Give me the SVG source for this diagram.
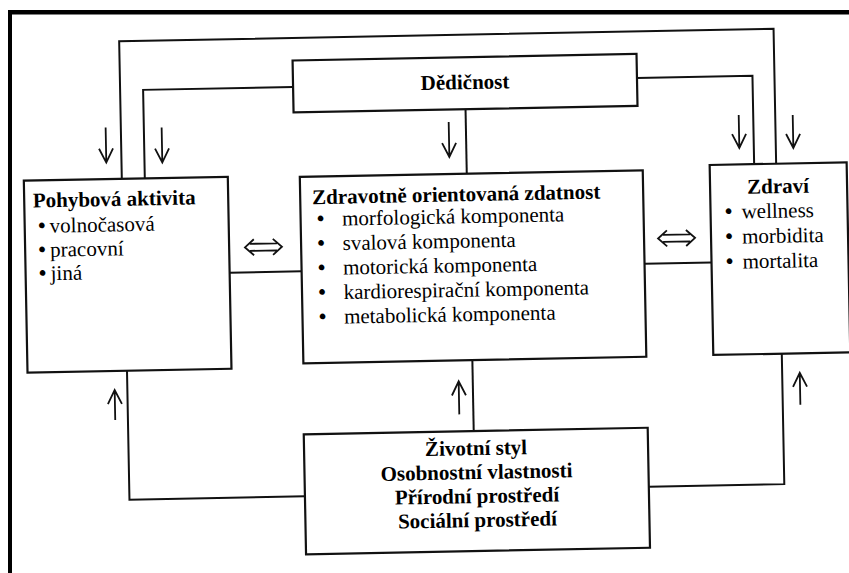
<svg xmlns="http://www.w3.org/2000/svg" width="849" height="573" viewBox="0 0 849 573">
<style>
.box{fill:#fff;stroke:#111;stroke-width:2.2}
.ln{fill:none;stroke:#111;stroke-width:2}
.ar{fill:none;stroke:#111;stroke-width:1.8}
.t{font-family:"Liberation Serif","Times New Roman",serif;font-size:21px;fill:#000}
.b{font-weight:bold}
.m{text-anchor:middle}
.bu{font-family:"Liberation Serif","Times New Roman",serif;font-size:24px;fill:#000;text-anchor:middle}
</style>
<rect width="849" height="573" fill="#fff"/>
<g id="frame"><rect x="8" y="10" width="4" height="563" fill="#000"/><rect x="8" y="10" width="841" height="4.5" fill="#000"/></g>
<g transform="rotate(-1.1 425 290)">
<g id="connectors">
 <path class="ln" d="M124,173 V35.5 H778.5 V170.5"/>
 <path class="ln" d="M297,84.5 H147 V173"/>
 <path class="ln" d="M641,82 H756.5 V170.5"/>
 <path class="ln" d="M469,110 V174.5"/>
 <path class="ln" d="M230,269 H302"/>
 <path class="ln" d="M645,268 H712"/>
 <path class="ln" d="M125.5,365 V494 H301"/>
 <path class="ln" d="M471,361 V432"/>
 <path class="ln" d="M645,491 H780.5 V360.5"/>
 <path class="ar" d="M108.8,121.5 V156.5 M101.8,142.5 L108.8,156.5 L115.8,142.5"/>
 <path class="ar" d="M164.8,122.5 V157.5 M157.8,143.5 L164.8,157.5 L171.8,143.5"/>
 <path class="ar" d="M451.9,122.5 V157.5 M444.9,143.5 L451.9,157.5 L458.9,143.5"/>
 <path class="ar" d="M742,121 V154 M735,140 L742,154 L749,140"/>
 <path class="ar" d="M796,122 V155 M789,141 L796,155 L803,141"/>
 <path class="ar" d="M112.8,414 V384 M105.8,398 L112.8,384 L119.8,398"/>
 <path class="ar" d="M456.9,415 V382 M449.9,396 L456.9,382 L463.9,396"/>
 <path class="ar" d="M798.1,412 V380 M791.1,394 L798.1,380 L805.1,394"/>
 <path class="ar" d="M254.8,236 L245.8,244 L254.8,252 M273.8,236 L282.8,244 L273.8,252 M250.8,240.5 H277.8 M250.8,247.5 H277.8"/>
 <path class="ar" d="M668,235 L659,243 L668,251 M687,235 L696,243 L687,251 M664,239.5 H691 M664,246.5 H691"/>
</g>
<g id="dedicnost">
 <rect class="box" x="297" y="58" width="344" height="52"/>
 <text class="t b m" x="469" y="90">Dědičnost</text>
</g>
<g id="pohybova">
 <rect class="box" x="26" y="173" width="204" height="192"/>
 <text class="t b" x="34.6" y="200">Pohybová aktivita</text>
 <text class="bu" x="43" y="226">•</text><text class="t" x="51" y="225.5">volnočasová</text>
 <text class="bu" x="43" y="250">•</text><text class="t" x="51" y="249.5">pracovní</text>
 <text class="bu" x="43" y="273.5">•</text><text class="t" x="51" y="273">jiná</text>
</g>
<g id="zdatnost">
 <rect class="box" x="302" y="174.5" width="343" height="186.5"/>
 <text class="t b" x="314" y="202">Zdravotně orientovaná zdatnost</text>
 <text class="bu" x="322" y="224.5">•</text><text class="t" x="343.5" y="224">morfologická komponenta</text>
 <text class="bu" x="322" y="249">•</text><text class="t" x="343.5" y="248.5">svalová komponenta</text>
 <text class="bu" x="322" y="273.5">•</text><text class="t" x="343.5" y="273">motorická komponenta</text>
 <text class="bu" x="322" y="298">•</text><text class="t" x="343.5" y="297.5">kardiorespirační komponenta</text>
 <text class="bu" x="322" y="322.5">•</text><text class="t" x="343.5" y="322">metabolická komponenta</text>
</g>
<g id="zdravi">
 <rect class="box" x="712" y="170.5" width="137" height="190"/>
 <text class="t b m" x="780" y="200">Zdraví</text>
 <text class="bu" x="730" y="225">•</text><text class="t" x="743" y="224.5">wellness</text>
 <text class="bu" x="730" y="250">•</text><text class="t" x="743" y="249.5">morbidita</text>
 <text class="bu" x="730" y="275">•</text><text class="t" x="743" y="274.5">mortalita</text>
</g>
<g id="faktory">
 <rect class="box" x="301" y="432" width="344" height="120"/>
 <text class="t b m" x="473" y="456">Životní styl</text>
 <text class="t b m" x="473" y="480">Osobnostní vlastnosti</text>
 <text class="t b m" x="473" y="504">Přírodní prostředí</text>
 <text class="t b m" x="473" y="528">Sociální prostředí</text>
</g>
</g>
</svg>
